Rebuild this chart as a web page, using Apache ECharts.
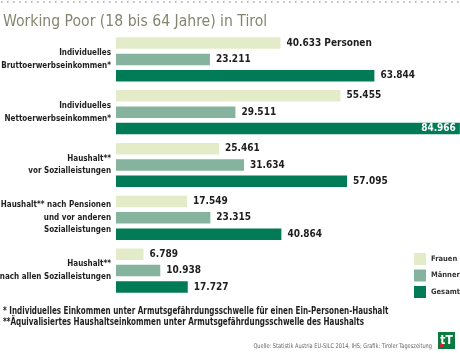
<!DOCTYPE html>
<html>
<head>
<meta charset="utf-8">
<script src="https://cdn.jsdelivr.net/npm/echarts@6/dist/echarts.min.js"></script>
<style>
  html, body { margin: 0; padding: 0; background: #fff; }
  #chart { width: 460px; height: 353px; }
</style>
</head>
<body>
<div id="chart"></div>
<script>
const categories = [
  "Individuelles\nBruttoerwerbseinkommen*",
  "Individuelles\nNettoerwerbseinkommen*",
  "Haushalt**\nvor Sozialleistungen",
  "Haushalt** nach Pensionen\nund vor anderen\nSozialleistungen",
  "Haushalt**\nnach allen Sozialleistungen"
];
const frauen = [40633, 55455, 25461, 17549, 6789];
const maenner = [23211, 29511, 31634, 23315, 10938];
const gesamt = [63844, 84966, 57095, 40864, 17727];
const seriesNames = ["Frauen", "Männer", "Gesamt"];
const footnotes = [
  "* Individuelles Einkommen unter Armutsgefährdungsschwelle für einen Ein-Personen-Haushalt",
  "**Äquivalisiertes Haushaltseinkommen unter Armutsgefährdungsschwelle des Haushalts"
];

const FONT = '"DejaVu Sans Condensed", "Liberation Sans Narrow", "Liberation Sans", sans-serif';
const colors = ["#e4ebc9", "#86b39d", "#007b56"];

function fmt(v) {
  return v.toLocaleString("de-DE");
}

const chart = echarts.init(document.getElementById("chart"));

function valueLabel(idx) {
  return {
    show: true,
    position: "right",
    distance: 6,
    color: "#1e1e1e",
    fontFamily: FONT,
    fontWeight: "bold",
    fontSize: 10,
    formatter: (p) => {
      if (idx === 0 && p.dataIndex === 0) return fmt(p.value) + " Personen";
      return fmt(p.value);
    }
  };
}

const gesamtData = gesamt.map((v) => {
  if (v > 80000) {
    return {
      value: v,
      label: { position: "insideRight", color: "#fff", distance: 4 }
    };
  }
  return v;
});

chart.setOption({
  animation: false,
  color: colors,
  textStyle: { fontFamily: FONT },
  title: {
    text: "Working Poor (18 bis 64 Jahre) in Tirol",
    left: -2,
    top: 9,
    textStyle: {
      color: "#85856f",
      fontFamily: FONT,
      fontWeight: "normal",
      fontSize: 15.6
    }
  },
  legend: {
    orient: "vertical",
    left: 409,
    top: 248,
    itemWidth: 12,
    itemHeight: 12,
    itemGap: 4.5,
    icon: "rect",
    data: seriesNames,
    textStyle: {
      color: "#333",
      fontFamily: FONT,
      fontWeight: "bold",
      fontSize: 7.5
    }
  },
  grid: {
    left: 116,
    right: 0,
    top: 33,
    height: 264,
    containLabel: false,
    outerBoundsMode: "none"
  },
  xAxis: {
    type: "value",
    min: 0,
    max: 85000,
    show: false
  },
  yAxis: {
    type: "category",
    data: categories,
    inverse: true,
    axisLine: { show: false },
    axisTick: { show: false },
    axisLabel: {
      margin: 5,
      align: "right",
      color: "#1e1e1e",
      fontFamily: FONT,
      fontWeight: "bold",
      fontSize: 8,
      lineHeight: 12.5
    }
  },
  series: [
    { name: seriesNames[0], type: "bar", data: frauen, barWidth: 11.5, barGap: "42%", label: valueLabel(0) },
    { name: seriesNames[1], type: "bar", data: maenner, barWidth: 11.5, barGap: "42%", label: valueLabel(1) },
    { name: seriesNames[2], type: "bar", data: gesamtData, barWidth: 11.5, barGap: "42%", label: valueLabel(2) }
  ],
  graphic: [
    {
      type: "line",
      shape: { x1: 1, y1: 2, x2: 460, y2: 2 },
      style: { stroke: "#a8a8a8", lineWidth: 1.6, lineDash: [1.6, 4.4] }
    },
    {
      type: "text",
      x: 3,
      y: 306,
      scaleX: 0.8,
      style: {
        text: footnotes[0],
        fill: "#1e1e1e",
        font: "bold 10px " + FONT
      }
    },
    {
      type: "text",
      x: 3,
      y: 317,
      scaleX: 0.8,
      style: {
        text: footnotes[1],
        fill: "#1e1e1e",
        font: "bold 10px " + FONT
      }
    },
    {
      type: "text",
      x: 432,
      y: 343,
      scaleX: 0.86,
      style: {
        text: "Quelle: Statistik Austria EU-SILC 2014, IHS; Grafik: Tiroler Tageszeitung",
        fill: "#666",
        align: "right",
        font: "6.5px " + FONT
      }
    },
    {
      type: "rect",
      shape: { x: 438, y: 332, width: 17, height: 17 },
      style: { fill: "#0b7a3e" }
    },
    {
      type: "rect",
      shape: { x: 440, y: 343, width: 3, height: 4 },
      style: { fill: "#c62828" }
    },
    {
      type: "text",
      x: 446.5,
      y: 341,
      style: {
        text: "tT",
        fill: "#fff",
        font: "bold 12px " + FONT,
        align: "center",
        verticalAlign: "middle"
      }
    }
  ]
});
</script>
</body>
</html>
